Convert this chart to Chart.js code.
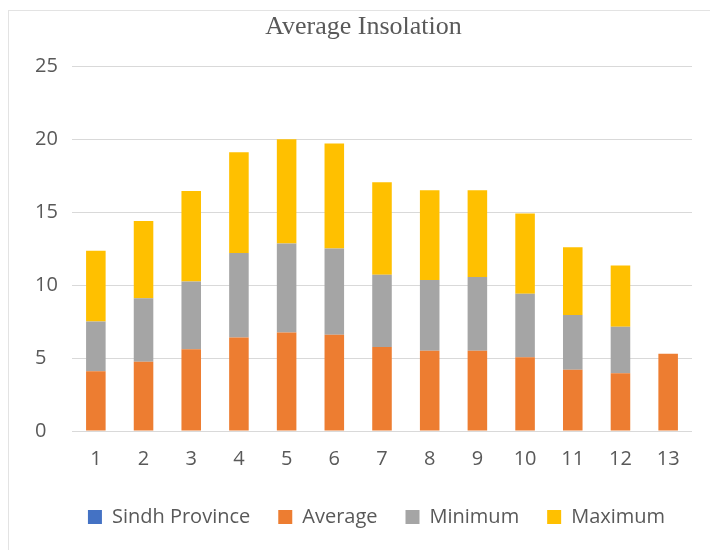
<!DOCTYPE html>
<html>
<head>
<meta charset="utf-8">
<script src="https://cdn.jsdelivr.net/npm/chart.js@4.4.1/dist/chart.umd.min.js"></script>
<style>
    html, body { margin: 0; padding: 0; background: #fff; overflow: hidden; }
    #wrap { position: relative; width: 710px; height: 550px; }
    #frame {
        position: absolute; left: 8px; top: 10px;
        width: 720px; height: 560px;
        border: 1px solid #e3e3e3; box-sizing: border-box;
    }
    canvas { position: absolute; left: 0; top: 0; }
</style>
</head>
<body>
<div id="wrap">
    <div id="frame"></div>
    <canvas id="chart" width="710" height="550"></canvas>
</div>
<script>
// Months 1..13 with stacked insolation components
const months = ['1', '2', '3', '4', '5', '6', '7', '8', '9', '10', '11', '12', '13'];
const sindhProvince = [0, 0, 0, 0, 0, 0, 0, 0, 0, 0, 0, 0, 0];
const average = [4.1, 4.75, 5.6, 6.4, 6.75, 6.6, 5.75, 5.5, 5.5, 5.05, 4.2, 3.95, 5.3];
const minimum = [3.4, 4.35, 4.65, 5.8, 6.1, 5.9, 4.95, 4.85, 5.05, 4.35, 3.75, 3.2, 0];
const maximum = [4.85, 5.3, 6.2, 6.9, 7.15, 7.2, 6.35, 6.15, 5.95, 5.5, 4.65, 4.2, 0];
const yTicks = [0, 5, 10, 15, 20, 25];

const textColor = '#595959';
const gridColor = '#d9d9d9';
const sansFont = "'Open Sans', sans-serif";

const makeSet = (label, data, color) => ({
    label,
    data,
    backgroundColor: color,
    borderWidth: 0,
    barPercentage: 0.41,
    categoryPercentage: 1,
});

// slide the whole legend box a little to the right of the plot centre
const legendShift = {
    id: 'legendShift',
    afterLayout(chart) {
        chart.legend.left += 13;
        chart.legend.right += 13;
    },
};

const ctx = document.getElementById('chart').getContext('2d');

new Chart(ctx, {
    type: 'bar',
    data: {
        labels: months,
        datasets: [
            makeSet('Sindh Province', sindhProvince, '#4472c4'),
            makeSet('Average', average, '#ed7d31'),
            makeSet('Minimum', minimum, '#a5a5a5'),
            makeSet('Maximum', maximum, '#ffc000'),
        ],
    },
    plugins: [legendShift],
    options: {
        responsive: false,
        animation: false,
        layout: {
            padding: { left: 35, right: 18, top: 12, bottom: 13 },
        },
        plugins: {
            title: {
                display: true,
                text: 'Average Insolation',
                color: textColor,
                font: { family: "'Liberation Serif', serif", size: 26, weight: 'normal' },
                padding: { top: 0, bottom: 23 },
            },
            legend: {
                position: 'bottom',
                labels: {
                    color: textColor,
                    font: { family: sansFont, size: 20 },
                    boxWidth: 14,
                    boxHeight: 14,
                    padding: 28,
                },
            },
            tooltip: { enabled: false },
        },
        scales: {
            x: {
                stacked: true,
                afterFit: (scale) => { scale.height = 48; },
                grid: { display: false, drawTicks: false },
                border: { display: false },
                ticks: {
                    color: textColor,
                    font: { family: sansFont, size: 20 },
                    padding: 16,
                    maxRotation: 0,
                },
            },
            y: {
                stacked: true,
                min: 0,
                max: 25,
                afterFit: (scale) => { scale.width = 37; },
                afterBuildTicks: (scale) => {
                    scale.ticks = yTicks.map(v => ({ value: v }));
                },
                grid: { color: gridColor, drawTicks: false, lineWidth: 1 },
                border: { display: false },
                ticks: {
                    color: textColor,
                    font: { family: sansFont, size: 20 },
                    crossAlign: 'far',
                    padding: 0,
                },
            },
        },
    },
});
</script>
</body>
</html>
